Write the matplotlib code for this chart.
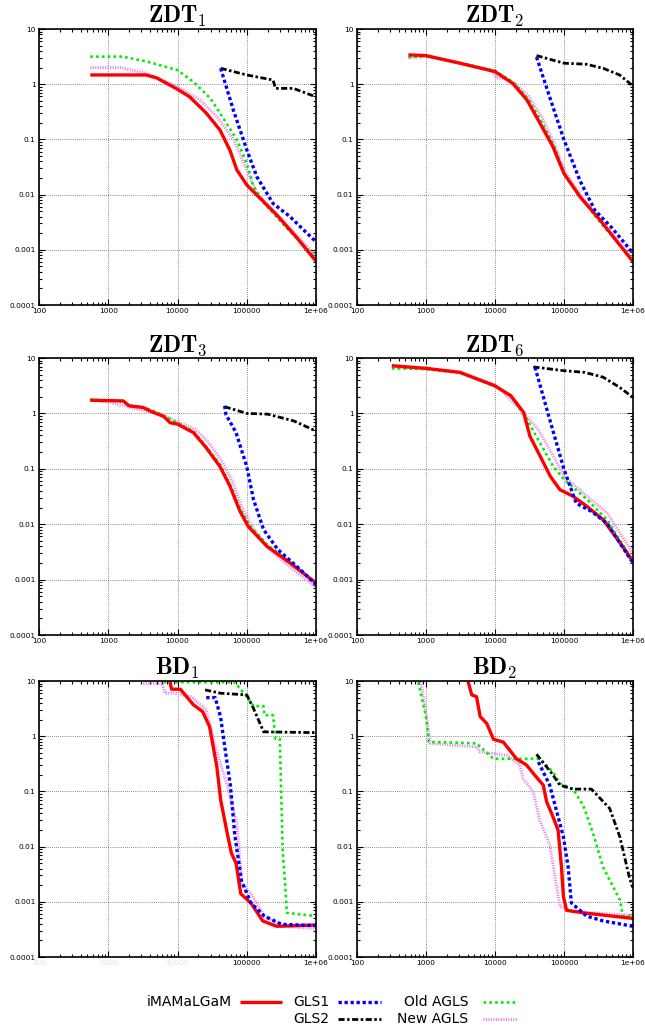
import numpy as np
import matplotlib.pyplot as plt
from matplotlib.lines import Line2D
from matplotlib.ticker import FixedLocator, LogLocator, NullFormatter

plt.rcParams["mathtext.fontset"] = "cm"
plt.rcParams["font.family"] = "DejaVu Sans"

# ---- data: (evaluations, distance) ----
zdt1_imam = [(550, 1.47), (3500, 1.47), (5000, 1.3), (10000, 0.81), (15000, 0.59), (26000, 0.30),
             (41000, 0.148), (57000, 0.064), (72000, 0.028), (100000, 0.015), (140000, 0.0098),
             (270000, 0.0043), (520000, 0.0017), (1e6, 0.00062)]
zdt1_old = [(550, 3.16), (1600, 3.16), (3500, 2.6), (10000, 1.8), (17000, 1.1), (30000, 0.55),
            (51000, 0.195), (72000, 0.098), (100000, 0.037), (125000, 0.014), (180000, 0.0069),
            (400000, 0.0023), (1e6, 0.00071)]
zdt1_new = [(550, 2.0), (1500, 2.0), (3500, 1.58), (10000, 0.9), (21000, 0.52), (37000, 0.26),
            (65000, 0.098), (100000, 0.028), (140000, 0.0105), (330000, 0.0035), (1e6, 0.00076)]
zdt1_gls1 = [(42000, 1.94), (64000, 0.34), (100000, 0.065), (140000, 0.021), (240000, 0.0069),
             (420000, 0.004), (660000, 0.0023), (1e6, 0.0014)]
zdt1_gls2 = [(42000, 1.94), (100000, 1.47), (240000, 1.19), (260000, 0.84), (470000, 0.84), (1e6, 0.59)]

zdt2_imam = [(556, 3.4), (1000, 3.3), (3100, 2.4), (10000, 1.69), (18000, 1.04), (29000, 0.52),
             (45000, 0.195), (69000, 0.074), (100000, 0.024), (170000, 0.0092), (330000, 0.0035),
             (1e6, 0.00061)]
zdt2_old = [(556, 3.1), (1000, 3.2), (3100, 2.45), (10000, 1.75), (18000, 1.1), (30000, 0.55),
            (48000, 0.2), (72000, 0.075), (105000, 0.022), (180000, 0.0085), (330000, 0.0032),
            (1e6, 0.00065)]
zdt2_new = [(556, 3.0), (1000, 3.15), (3100, 2.4), (9000, 1.8), (10500, 1.3), (14000, 1.25),
            (20000, 1.0), (31000, 0.6), (48000, 0.25), (72000, 0.085), (105000, 0.025),
            (180000, 0.009), (330000, 0.0036), (1e6, 0.00068)]
zdt2_gls1 = [(40000, 3.1), (64000, 0.52), (100000, 0.098), (170000, 0.018), (280000, 0.0052),
             (480000, 0.0026), (1e6, 0.00087)]
zdt2_gls2 = [(40000, 3.3), (100000, 2.4), (210000, 2.3), (370000, 1.94), (640000, 1.47), (1e6, 0.93)]

zdt3_imam = [(550, 1.73), (1650, 1.68), (2000, 1.37), (3200, 1.28), (4000, 1.11), (6300, 0.88),
             (7800, 0.68), (10000, 0.64), (17000, 0.45), (26000, 0.24), (41000, 0.11),
             (57000, 0.049), (80000, 0.017), (105000, 0.0091), (195000, 0.004), (420000, 0.002),
             (1e6, 0.00087)]
zdt3_old = [(550, 1.78), (1500, 1.65), (2200, 1.35), (3500, 1.25), (5000, 1.05), (7000, 0.85),
            (10000, 0.68), (17000, 0.47), (26000, 0.25), (42000, 0.115), (58000, 0.05),
            (82000, 0.018), (110000, 0.0095), (200000, 0.0042), (420000, 0.0021), (1e6, 0.00085)]
zdt3_new = [(550, 1.75), (1000, 1.6), (2000, 1.3), (3500, 1.1), (6000, 0.95), (10000, 0.7),
            (18000, 0.52), (28000, 0.3), (45000, 0.13), (62000, 0.06), (86000, 0.02),
            (115000, 0.0098), (200000, 0.0038), (420000, 0.0017), (1e6, 0.00072)]
zdt3_gls1 = [(48000, 1.37), (50000, 0.96), (70000, 0.45), (100000, 0.11), (125000, 0.028),
             (175000, 0.008), (280000, 0.0035), (600000, 0.0015), (1e6, 0.00081)]
zdt3_gls2 = [(48000, 1.32), (100000, 1.0), (200000, 0.97), (480000, 0.73), (1e6, 0.48)]

zdt6_imam = [(320, 7.26), (1000, 6.5), (3100, 5.5), (10000, 3.14), (17000, 2.08), (26000, 1.04),
             (32000, 0.39), (45000, 0.17), (63000, 0.074), (87000, 0.042), (135000, 0.032),
             (215000, 0.021), (370000, 0.012), (650000, 0.0046), (1e6, 0.0021)]
zdt6_old = [(320, 6.5), (1000, 6.3), (3100, 5.4), (10000, 3.1), (17000, 2.1), (29000, 0.78),
            (42000, 0.34), (70000, 0.11), (100000, 0.064), (215000, 0.028), (420000, 0.012),
            (1e6, 0.0022)]
zdt6_new = [(320, 6.8), (1000, 6.4), (3100, 5.6), (10000, 3.3), (23000, 1.2), (42000, 0.52),
            (70000, 0.17), (100000, 0.074), (215000, 0.032), (420000, 0.016), (1e6, 0.003)]
zdt6_gls1 = [(38000, 6.8), (64000, 0.68), (100000, 0.098), (150000, 0.024), (250000, 0.017),
             (420000, 0.0104), (1e6, 0.002)]
zdt6_gls2 = [(36000, 6.9), (100000, 5.9), (200000, 5.5), (370000, 4.5), (640000, 2.95), (1e6, 1.94)]

bd1_imam = [(7500, 12), (8200, 7.1), (11000, 7.1), (17000, 3.7), (23000, 2.8), (29000, 1.5),
            (37000, 0.28), (42000, 0.07), (52000, 0.018), (60000, 0.0076), (70000, 0.005),
            (82000, 0.0014), (115000, 0.00095), (170000, 0.00045), (270000, 0.00036), (1e6, 0.00038)]
bd1_old = [(6300, 9.5), (67000, 9.5), (100000, 5.2), (125000, 3.5), (175000, 3.5), (180000, 2.4),
           (240000, 2.4), (260000, 0.9), (300000, 0.9), (330000, 0.0087), (360000, 0.0019),
           (380000, 0.00063), (1e6, 0.00055)]
bd1_new = [(3200, 9.0), (6000, 9.0), (6600, 6.0), (9000, 6.0), (16000, 5.2), (26000, 3.0),
           (37000, 0.52), (52000, 0.13), (72000, 0.027), (85000, 0.0022), (115000, 0.0014),
           (180000, 0.00055), (320000, 0.00036), (1e6, 0.00033)]
bd1_gls1 = [(26000, 5.0), (35000, 5.0), (42000, 2.2), (47000, 0.79), (58000, 0.13), (67000, 0.0166),
            (84000, 0.0024), (115000, 0.00095), (180000, 0.00055), (320000, 0.00039), (1e6, 0.00037)]
bd1_gls2 = [(25000, 6.9), (42000, 6.0), (100000, 5.6), (125000, 3.2), (175000, 1.2), (1e6, 1.16)]

bd2_imam = [(3900, 12), (4600, 5.6), (5400, 5.2), (6100, 2.26), (7600, 1.7), (9500, 0.88),
            (13200, 0.78), (20500, 0.39), (28600, 0.3), (40000, 0.18), (50000, 0.13), (56000, 0.065),
            (69000, 0.035), (82000, 0.02), (92000, 0.0042), (98000, 0.00125), (109000, 0.0007),
            (213000, 0.00062), (1e6, 0.0005)]
bd2_old = [(740, 12), (1000, 2.26), (1100, 0.79), (5400, 0.74), (9500, 0.39), (44600, 0.39),
           (69000, 0.225), (87000, 0.14), (135000, 0.11), (190000, 0.056), (265000, 0.017),
           (370000, 0.0042), (645000, 0.00108), (716000, 0.00055), (1e6, 0.00055)]
bd2_new = [(824, 12), (1000, 2.6), (1160, 0.74), (5400, 0.64), (6100, 0.52), (14700, 0.45),
           (23000, 0.3), (25500, 0.17), (35800, 0.099), (44600, 0.0297), (62000, 0.011),
           (87000, 0.00083), (135000, 0.00066), (1e6, 0.00057)]
bd2_gls1 = [(42600, 0.34), (62000, 0.13), (82000, 0.035), (98000, 0.015), (115000, 0.0042),
            (128000, 0.00095), (213000, 0.00055), (370000, 0.00045), (1e6, 0.00036)]
bd2_gls2 = [(40000, 0.47), (69000, 0.2), (87000, 0.13), (135000, 0.11), (250000, 0.11),
            (460000, 0.049), (645000, 0.015), (890000, 0.0027), (1e6, 0.0018)]

names = ["iMAMaLGaM", "GLS1", "GLS2", "Old AGLS", "New AGLS"]
xticks = [100, 1000, 10000, 100000, 1e6]
xlabels = ["100", "1000", "10000", "100000", "1e+06"]
yticks = [1e-4, 1e-3, 1e-2, 1e-1, 1, 10]
ylabels = ["0.0001", "0.001", "0.01", "0.1", "1", "10"]

styles = {
    "iMAMaLGaM": dict(color="#ff0000", lw=2.4, ls="-"),
    "GLS1": dict(color="#0000ff", lw=2.4, ls=(0, (1, 0.8))),
    "GLS2": dict(color="black", lw=2.0, ls=(0, (2.2, 0.9, 0.9, 0.9))),
    "Old AGLS": dict(color="#00ee00", lw=1.9, ls=(0, (1, 1.2))),
    "New AGLS": dict(color="#ee82ee", lw=2.1, ls=(0, (0.4, 0.45))),
}
draw_order = ["New AGLS", "Old AGLS", "iMAMaLGaM", "GLS2", "GLS1"]

panels = [
    ("ZDT", "1", [zdt1_imam, zdt1_gls1, zdt1_gls2, zdt1_old, zdt1_new]),
    ("ZDT", "2", [zdt2_imam, zdt2_gls1, zdt2_gls2, zdt2_old, zdt2_new]),
    ("ZDT", "3", [zdt3_imam, zdt3_gls1, zdt3_gls2, zdt3_old, zdt3_new]),
    ("ZDT", "6", [zdt6_imam, zdt6_gls1, zdt6_gls2, zdt6_old, zdt6_new]),
    ("BD", "1", [bd1_imam, bd1_gls1, bd1_gls2, bd1_old, bd1_new]),
    ("BD", "2", [bd2_imam, bd2_gls1, bd2_gls2, bd2_old, bd2_new]),
]

W, H = 645, 1028
fig = plt.figure(figsize=(W / 100, H / 100), dpi=100)

# axes boxes in pixels: left, top, right, bottom
cols = [(39, 316), (357, 633)]
rows = [(29, 305), (358, 635), (681, 957)]

for k, (base, sub, series) in enumerate(panels):
    l, r = cols[k % 2]
    t, b = rows[k // 2]
    ax = fig.add_axes([l / W, 1 - b / H, (r - l) / W, (b - t) / H])
    ax.set_xscale("log")
    ax.set_yscale("log")

    data = dict(zip(names, series))
    for nm in draw_order:
        pts = np.array(data[nm])
        st = styles[nm]
        ax.plot(pts[:, 0], pts[:, 1], color=st["color"], lw=st["lw"], ls=st["ls"],
                solid_capstyle="butt", dash_capstyle="butt")

    ax.set_xlim(100, 1e6)
    ax.set_ylim(1e-4, 10)
    ax.xaxis.set_major_locator(FixedLocator(xticks))
    ax.yaxis.set_major_locator(FixedLocator(yticks))
    ax.set_xticklabels(xlabels)
    ax.set_yticklabels(ylabels)
    ax.xaxis.set_minor_locator(LogLocator(base=10, subs=np.arange(2, 10)))
    ax.yaxis.set_minor_locator(LogLocator(base=10, subs=np.arange(2, 10)))
    ax.xaxis.set_minor_formatter(NullFormatter())
    ax.yaxis.set_minor_formatter(NullFormatter())
    ax.tick_params(which="both", direction="in", top=True, right=True, labelsize=5.3,
                   width=0.8, colors="black")
    ax.tick_params(which="major", length=4, pad=2.5)
    ax.tick_params(which="minor", length=2)
    ax.grid(True, which="major", color="#666666", ls=(0, (1, 1.5)), lw=0.6)
    for sp in ax.spines.values():
        sp.set_linewidth(1.2)

    if base == "BD" and sub == "1":
        for lab in ax.get_xticklabels()[:3]:
            lab.set_color("#e4e4e4")

    ax.set_title(r"$\mathbf{%s}_{%s}$" % (base, sub), fontsize=17, pad=2)

# legend drawn by hand, gnuplot style: text then sample
legend_items = [
    ("iMAMaLGaM", 232, 1002, 240, 282),
    ("GLS1", 329, 1002, 338, 381),
    ("GLS2", 329, 1019, 338, 381),
    ("Old AGLS", 468, 1002, 483, 518),
    ("New AGLS", 468, 1019, 483, 518),
]
for nm, tx, ty, x0, x1 in legend_items:
    st = styles[nm]
    fig.text(tx / W, 1 - ty / H, nm, ha="right", va="center", fontsize=10)
    fig.add_artist(Line2D([x0 / W, x1 / W], [1 - ty / H, 1 - ty / H], color=st["color"],
                          lw=st["lw"], ls=st["ls"], transform=fig.transFigure,
                          solid_capstyle="butt", dash_capstyle="butt"))

fig.savefig("out.png", dpi=100)
